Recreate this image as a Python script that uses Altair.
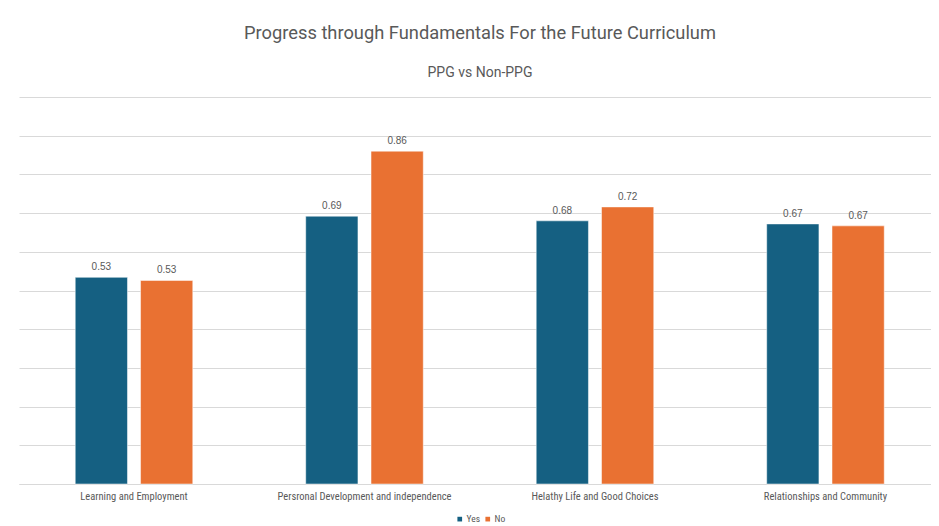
import altair as alt
import pandas as pd

categories = [
    "Learning and Employment",
    "Persronal Development and independence",
    "Helathy Life and Good Choices",
    "Relationships and Community",
]
series = ["Yes", "No"]
yes_values = [0.534, 0.692, 0.680, 0.672]
no_values = [0.526, 0.860, 0.716, 0.667]
colors = ["#156082", "#E97132"]

rows = []
for c, y, n in zip(categories, yes_values, no_values):
    rows.append({"category": c, "group": "Yes", "value": y})
    rows.append({"category": c, "group": "No", "value": n})
df = pd.DataFrame(rows)

GRAY = "#595959"
NARROW = "Liberation Sans Narrow, Roboto Condensed, Roboto, sans-serif"
TITLEFONT = "Roboto, Liberation Sans, sans-serif"

x_enc = alt.X(
    "category:N",
    sort=categories,
    scale=alt.Scale(paddingInner=0.49, paddingOuter=0.2234, align=0.546),
    axis=alt.Axis(
        title=None, labelAngle=0, ticks=False, domainColor="#d9d9d9",
        labelColor=GRAY, labelFontSize=10.5, labelFont=NARROW, labelPadding=7,
        labelLimit=300,
    ),
)
xoff = alt.XOffset("group:N", sort=series, scale=alt.Scale(paddingInner=0.2, paddingOuter=0))
y_enc = alt.Y(
    "value:Q",
    scale=alt.Scale(domain=[0, 1], nice=False),
    axis=alt.Axis(
        title=None, labels=False, ticks=False, domain=False,
        values=[i / 10 for i in range(11)], gridColor="#d9d9d9",
    ),
)
color_enc = alt.Color(
    "group:N",
    sort=series,
    scale=alt.Scale(domain=series, range=colors),
    legend=alt.Legend(
        title=None, orient="none", direction="horizontal", legendX=436, legendY=417,
        symbolType="square", symbolSize=22, symbolStrokeWidth=0,
        labelFontSize=9.5, labelColor=GRAY, labelFont=NARROW, columnPadding=3,
        symbolOffset=0, labelOffset=2,
    ),
)

bars = alt.Chart(df).mark_bar(stroke="white", strokeWidth=0.5).encode(
    x=x_enc, xOffset=xoff, y=y_enc, color=color_enc
)
labels = alt.Chart(df).mark_text(
    dy=-10, fontSize=10, color=GRAY, font="Liberation Sans, sans-serif"
).encode(
    x=x_enc,
    xOffset=xoff,
    y=y_enc,
    text=alt.Text("value:Q", format=".2f"),
)

chart = alt.layer(bars, labels).properties(
    width=912,
    height=387,
    padding={"left": 11, "top": 15, "right": 0, "bottom": 0},
    title=alt.TitleParams(
        text="Progress through Fundamentals For the Future Curriculum",
        subtitle="PPG vs Non-PPG",
        anchor="middle", dx=5, fontSize=18.3, fontWeight="normal", color=GRAY,
        font=TITLEFONT, subtitleFont=TITLEFONT, subtitleFontSize=14,
        subtitleColor=GRAY, subtitlePadding=23, offset=16,
    ),
).configure_view(stroke=None)

chart.save("out.html", embed_options={"renderer": "svg", "actions": False})
